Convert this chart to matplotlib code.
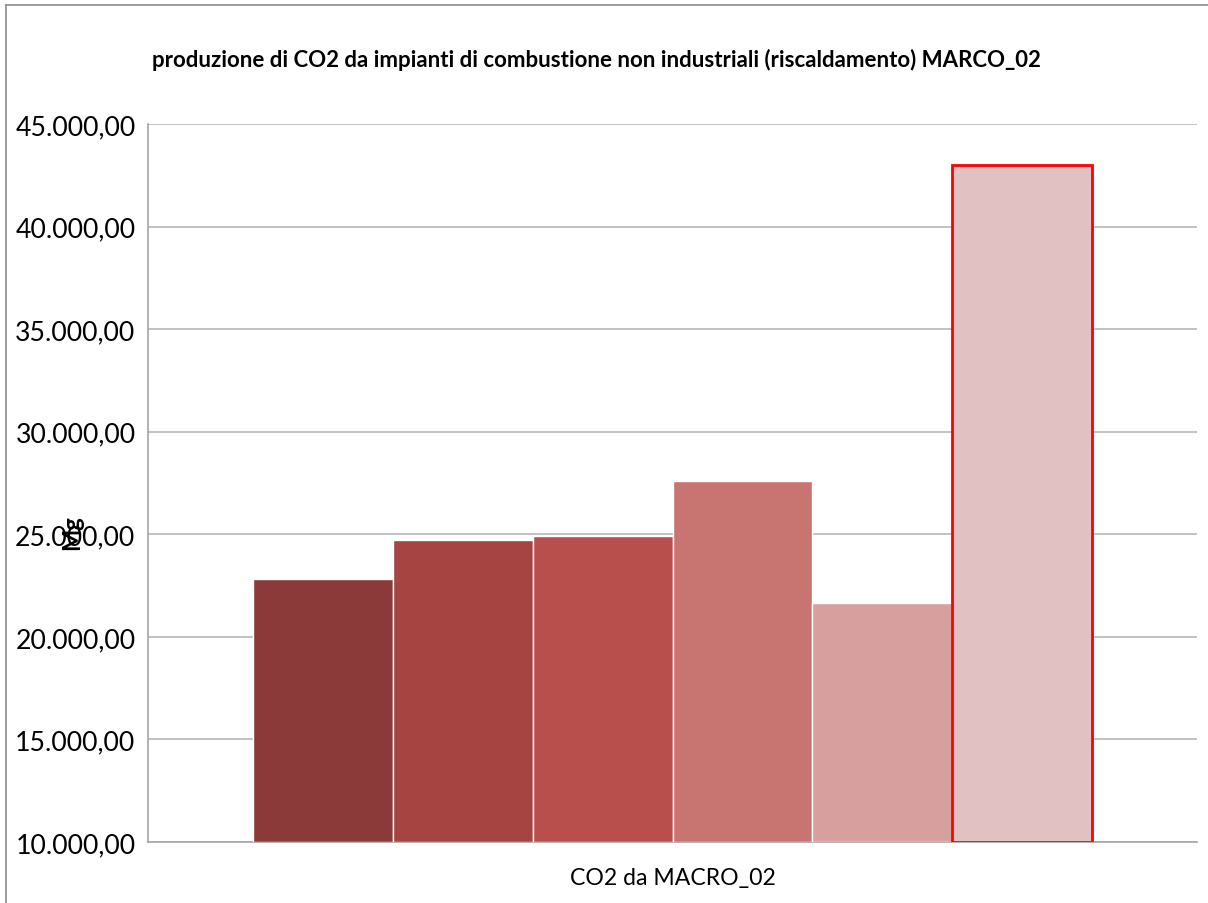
import matplotlib
matplotlib.use('Agg')
import matplotlib.pyplot as plt
from matplotlib.ticker import FuncFormatter, MultipleLocator
from matplotlib.lines import Line2D

plt.rcParams['font.family'] = ['Lato', 'DejaVu Sans']

# data
category = 'CO2 da MACRO_02'
values = [22800, 24720, 24920, 27600, 21650, 43000]
colors = ['#8B3A39', '#A54441', '#B94F4C', '#C87471', '#D7A09F', '#E2C1C3']
edges = ['white', 'white', 'white', 'white', 'white', '#FF0000']
title = 'produzione di CO2 da impianti di combustione non industriali (riscaldamento) MARCO_02'
ylabel = 'Mg'
y_min, y_max, y_step = 10000, 45000, 5000

fig = plt.figure(figsize=(12.08, 9.04), dpi=100)
ax = fig.add_axes([148 / 1208, 1 - 843 / 904, (1197 - 148) / 1208, (843 - 125) / 904])

n = len(values)
w = 0.8 / n
for i, (v, c, e) in enumerate(zip(values, colors, edges)):
    x = -0.4 + w * (i + 0.5)
    lw = 2.0 if e != 'white' else 1.0
    ax.bar(x, v - y_min, bottom=y_min, width=w, color=c, edgecolor=e, linewidth=lw, zorder=3)

ax.set_xlim(-0.5, 0.5)
ax.set_ylim(y_min, y_max)
ax.yaxis.set_major_locator(MultipleLocator(y_step))


def it_fmt(v, pos):
    s = f'{v:,.2f}'
    return s.replace(',', 'X').replace('.', ',').replace('X', '.')


ax.yaxis.set_major_formatter(FuncFormatter(it_fmt))
ax.set_xticks([0])
ax.set_xticklabels([category])
ax.tick_params(axis='y', length=0, labelsize=19.2, pad=9)
ax.tick_params(axis='x', length=0, labelsize=16.6, pad=18)
ax.grid(axis='y', color='#B7B7B7', linewidth=1.2, zorder=0)
for s in ['top', 'right']:
    ax.spines[s].set_visible(False)
for s in ['left', 'bottom']:
    ax.spines[s].set_color('#A6A6A6')
    ax.spines[s].set_linewidth(1.2)

fig.text(596 / 1208, 1 - 60 / 904, title, ha='center', va='center', fontsize=16, fontweight='bold')
fig.text(72 / 1208, 1 - 533 / 904, ylabel, ha='center', va='center', rotation=90, fontsize=17, fontweight='bold')

# chart-area border
fig.add_artist(Line2D([5.5 / 1208, 5.5 / 1208], [0, 1 - 6 / 904], transform=fig.transFigure, color='#8C8C8C', linewidth=1.2))
fig.add_artist(Line2D([5.5 / 1208, 1], [1 - 6 / 904, 1 - 6 / 904], transform=fig.transFigure, color='#8C8C8C', linewidth=1.2))

fig.savefig('out.png', dpi=100)
